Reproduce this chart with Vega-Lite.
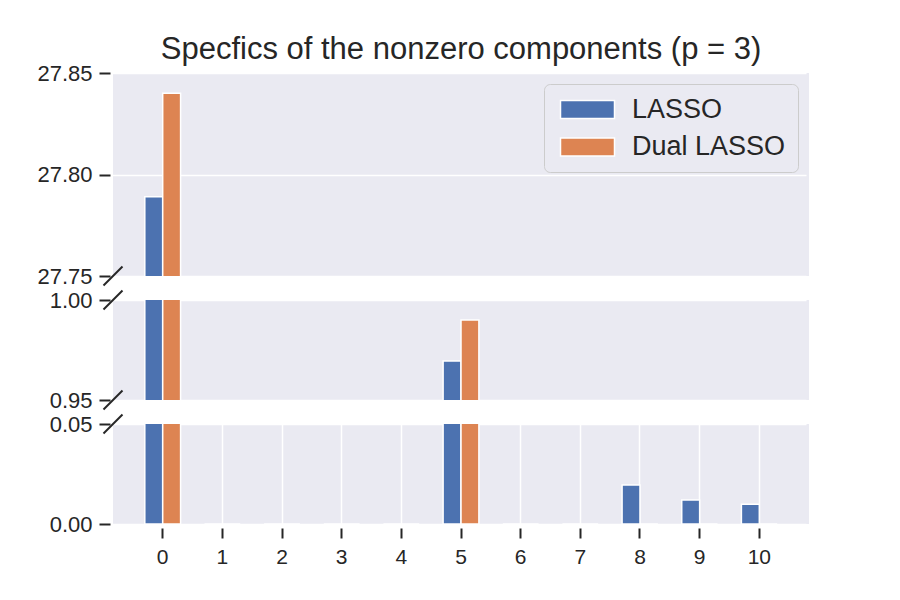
{
  "$schema": "https://vega.github.io/schema/vega-lite/v6.json",
  "background": "white",
  "padding": {"left": 36, "top": 34, "right": 5, "bottom": 5},
  "bounds": "flush",
  "spacing": 24,
  "title": {"text": "Specfics of the nonzero components (p = 3)", "anchor": "middle", "frame": "group", "offset": -4},
  "datasets": {
    "bars": [
      {"component": 0, "method": "LASSO", "value": 27.789},
      {"component": 0, "method": "Dual LASSO", "value": 27.84},
      {"component": 1, "method": "LASSO", "value": 0},
      {"component": 1, "method": "Dual LASSO", "value": 0},
      {"component": 2, "method": "LASSO", "value": 0},
      {"component": 2, "method": "Dual LASSO", "value": 0},
      {"component": 3, "method": "LASSO", "value": 0},
      {"component": 3, "method": "Dual LASSO", "value": 0},
      {"component": 4, "method": "LASSO", "value": 0},
      {"component": 4, "method": "Dual LASSO", "value": 0},
      {"component": 5, "method": "LASSO", "value": 0.9695},
      {"component": 5, "method": "Dual LASSO", "value": 0.99},
      {"component": 6, "method": "LASSO", "value": 0},
      {"component": 6, "method": "Dual LASSO", "value": 0},
      {"component": 7, "method": "LASSO", "value": 0},
      {"component": 7, "method": "Dual LASSO", "value": 0},
      {"component": 8, "method": "LASSO", "value": 0.0195},
      {"component": 8, "method": "Dual LASSO", "value": 0},
      {"component": 9, "method": "LASSO", "value": 0.012},
      {"component": 9, "method": "Dual LASSO", "value": 0},
      {"component": 10, "method": "LASSO", "value": 0.0099},
      {"component": 10, "method": "Dual LASSO", "value": 0}
    ]
  },
  "vconcat": [
    {
      "width": 696,
      "height": 203,
      "layer": [
        {
          "data": {"name": "bars"},
          "mark": {"type": "bar", "clip": true, "stroke": "white", "strokeWidth": 1.5},
          "encoding": {
            "x": {"field": "component", "type": "ordinal", "scale": {"paddingInner": 0.4, "paddingOuter": 0.533}, "axis": null},
            "xOffset": {"field": "method", "type": "nominal", "scale": {"domain": ["LASSO", "Dual LASSO"]}},
            "y": {"field": "value", "type": "quantitative", "scale": {"domain": [27.75, 27.85], "zero": false, "nice": false},
                  "axis": {"values": [27.75, 27.8, 27.85], "format": ".2f", "grid": true}},
            "color": {"field": "method", "type": "nominal", "scale": {"domain": ["LASSO", "Dual LASSO"], "range": ["#4C72B0", "#DD8452"]}}
          }
        },
        {
          "data": {"values": [{}]},
          "mark": {"type": "point", "shape": "M-1,1L1,-1", "size": 361, "filled": false, "stroke": "#262626", "strokeWidth": 2, "opacity": 1, "clip": false},
          "encoding": {"x": {"value": 0}, "y": {"datum": 27.75}}
        }
      ]
    },
    {
      "width": 696,
      "height": 100,
      "layer": [
        {
          "data": {"name": "bars"},
          "mark": {"type": "bar", "clip": true, "stroke": "white", "strokeWidth": 1.5},
          "encoding": {
            "x": {"field": "component", "type": "ordinal", "scale": {"paddingInner": 0.4, "paddingOuter": 0.533}, "axis": null},
            "xOffset": {"field": "method", "type": "nominal", "scale": {"domain": ["LASSO", "Dual LASSO"]}},
            "y": {"field": "value", "type": "quantitative", "scale": {"domain": [0.95, 1.0], "zero": false, "nice": false},
                  "axis": {"values": [0.95, 1.0], "format": ".2f", "grid": true}},
            "color": {"field": "method", "type": "nominal", "scale": {"domain": ["LASSO", "Dual LASSO"], "range": ["#4C72B0", "#DD8452"]}}
          }
        },
        {
          "data": {"values": [{}]},
          "mark": {"type": "point", "shape": "M-1,1L1,-1", "size": 361, "filled": false, "stroke": "#262626", "strokeWidth": 2, "opacity": 1, "clip": false},
          "encoding": {"x": {"value": 0}, "y": {"datum": 1.0}}
        },
        {
          "data": {"values": [{}]},
          "mark": {"type": "point", "shape": "M-1,1L1,-1", "size": 361, "filled": false, "stroke": "#262626", "strokeWidth": 2, "opacity": 1, "clip": false},
          "encoding": {"x": {"value": 0}, "y": {"datum": 0.95}}
        }
      ]
    },
    {
      "width": 696,
      "height": 100,
      "layer": [
        {
          "data": {"name": "bars"},
          "mark": {"type": "bar", "clip": true, "stroke": "white", "strokeWidth": 1.5},
          "encoding": {
            "x": {"field": "component", "type": "ordinal", "scale": {"paddingInner": 0.4, "paddingOuter": 0.533},
                  "axis": {"grid": true, "bandPosition": 0.5, "labelAngle": 0, "offset": 4, "tickSize": 10, "labelPadding": 8, "labelFontSize": 21}},
            "xOffset": {"field": "method", "type": "nominal", "scale": {"domain": ["LASSO", "Dual LASSO"]}},
            "y": {"field": "value", "type": "quantitative", "scale": {"domain": [0, 0.05], "nice": false},
                  "axis": {"values": [0, 0.05], "format": ".2f", "grid": true}},
            "color": {"field": "method", "type": "nominal", "scale": {"domain": ["LASSO", "Dual LASSO"], "range": ["#4C72B0", "#DD8452"]}}
          }
        },
        {
          "data": {"values": [{}]},
          "mark": {"type": "point", "shape": "M-1,1L1,-1", "size": 361, "filled": false, "stroke": "#262626", "strokeWidth": 2, "opacity": 1, "clip": false},
          "encoding": {"x": {"value": 0}, "y": {"datum": 0.05}}
        }
      ]
    }
  ],
  "resolve": {"scale": {"color": "shared"}},
  "config": {
    "font": "Liberation Sans",
    "view": {"fill": "#EAEAF2", "stroke": null},
    "title": {"font": "Liberation Sans", "fontSize": 31, "fontWeight": "normal", "color": "#262626"},
    "axis": {
      "domain": false,
      "title": null,
      "tickColor": "#262626",
      "tickWidth": 2,
      "tickSize": 11,
      "offset": 3,
      "labelPadding": 7,
      "labelFont": "Liberation Sans",
      "labelFontSize": 22,
      "labelColor": "#262626",
      "gridColor": "white",
      "gridWidth": 1.5,
      "gridOpacity": 1
    },
    "legend": {
      "orient": "none",
      "legendX": 431,
      "legendY": 11,
      "title": null,
      "symbolType": "M-3,-1H3V1H-3Z",
      "symbolSize": 324,
      "symbolOffset": 18,
      "symbolStrokeColor": "white",
      "symbolStrokeWidth": 1.5,
      "symbolOpacity": 1,
      "labelFont": "Liberation Sans",
      "labelFontSize": 27,
      "labelColor": "#262626",
      "labelOffset": 31,
      "rowPadding": 9.5,
      "padding": 12,
      "fillColor": "#EAEAF2",
      "strokeColor": "#CCCCCC",
      "cornerRadius": 6
    }
  }
}
